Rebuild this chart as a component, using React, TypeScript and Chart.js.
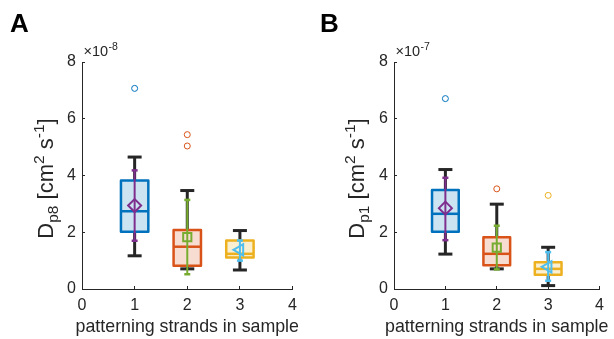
import React, { useEffect, useRef } from "react";
import { Chart, registerables } from "chart.js";

Chart.register(...registerables);

// ---- data ----
const groups = [1, 2, 3];
const xTickValues = [0, 1, 2, 3, 4];
const yTickValues = [0, 2, 4, 6, 8];

// Panel A: D_p8, units of 1e-8 cm^2 s^-1
const aQ1 = [2.02, 0.82, 1.11];
const aMedian = [2.74, 1.49, 1.24];
const aQ3 = [3.82, 2.08, 1.71];
const aWhiskerLow = [1.17, 0.71, 0.67];
const aWhiskerHigh = [4.65, 3.47, 2.06];
const aMean = [2.94, 1.83, 1.38];
const aMeanLow = [1.7, 0.52, 1.0];
const aMeanHigh = [4.18, 3.14, 1.71];
const aOutliers = [[7.07], [5.44, 5.04], []];

// Panel B: D_p1, units of 1e-7 cm^2 s^-1
const bQ1 = [2.02, 0.84, 0.5];
const bMedian = [2.65, 1.24, 0.71];
const bQ3 = [3.49, 1.82, 0.94];
const bWhiskerLow = [1.23, 0.71, 0.12];
const bWhiskerHigh = [4.21, 2.99, 1.47];
const bMean = [2.85, 1.46, 0.78];
const bMeanLow = [1.72, 0.69, 0.29];
const bMeanHigh = [3.92, 2.23, 1.3];
const bOutliers = [[6.71], [3.53], [3.3]];

// ---- styles ----
const AXIS = "#262626";
const FONT = "'Liberation Sans', Arial, Helvetica, sans-serif";
const boxColors = ["#0072BD", "#D95319", "#EDB120"];
const boxFills = ["#cce3f2", "#f7ddd1", "#fbefd2"];
const meanColors = ["#7E2F8E", "#77AC30", "#4DBEEE"];
const meanStyles = ["rectRot", "rect", "triangle"];
const meanRadius = [6.5, 5.8, 6.5];
const meanRotation = [0, 0, -90];
const BOX_HALF = 0.26;
const TICK_SIZE = 16;
const TITLE_SIZE = 17.8;
const YT_BIG = 22;
const YT_SMALL = 15.5;

type PanelData = {
  letter: string;
  exponent: string;
  sub: string;
  q1: number[];
  median: number[];
  q3: number[];
  wLo: number[];
  wHi: number[];
  mean: number[];
  mLo: number[];
  mHi: number[];
  outliers: number[][];
  left: number;
  yAxisWidth: number;
  padRight: number;
  letterX: number;
  yTitleX: number;
};

const panels: PanelData[] = [
  {
    letter: "A", exponent: "-8", sub: "p8",
    q1: aQ1, median: aMedian, q3: aQ3, wLo: aWhiskerLow, wHi: aWhiskerHigh,
    mean: aMean, mLo: aMeanLow, mHi: aMeanHigh, outliers: aOutliers,
    left: 0, yAxisWidth: 82, padRight: 12, letterX: 10, yTitleX: 53,
  },
  {
    letter: "B", exponent: "-7", sub: "p1",
    q1: bQ1, median: bMedian, q3: bQ3, wLo: bWhiskerLow, wHi: bWhiskerHigh,
    mean: bMean, mLo: bMeanLow, mHi: bMeanHigh, outliers: bOutliers,
    left: 307, yAxisWidth: 87, padRight: 6, letterX: 13, yTitleX: 57,
  },
];

const W = 307;
const H = 339;

function line(ctx: CanvasRenderingContext2D, x1: number, y1: number, x2: number, y2: number) {
  ctx.beginPath();
  ctx.moveTo(x1, y1);
  ctx.lineTo(x2, y2);
  ctx.stroke();
}

function makePlugin(p: PanelData) {
  return {
    id: "boxes" + p.letter,
    beforeDatasetsDraw(chart: any) {
      const { ctx } = chart;
      const x = chart.scales.x;
      const y = chart.scales.y;
      ctx.save();
      ctx.lineJoin = "round";
      groups.forEach((g, i) => {
        const cx = x.getPixelForValue(g);
        const l = x.getPixelForValue(g - BOX_HALF);
        const r = x.getPixelForValue(g + BOX_HALF);
        const yq1 = y.getPixelForValue(p.q1[i]);
        const yq3 = y.getPixelForValue(p.q3[i]);
        const ymed = y.getPixelForValue(p.median[i]);
        const ywl = y.getPixelForValue(p.wLo[i]);
        const ywh = y.getPixelForValue(p.wHi[i]);
        // whiskers
        ctx.strokeStyle = AXIS;
        ctx.lineWidth = 3;
        line(ctx, cx, ywh, cx, yq3);
        line(ctx, cx, yq1, cx, ywl);
        line(ctx, cx - 7, ywh, cx + 7, ywh);
        line(ctx, cx - 7, ywl, cx + 7, ywl);
        // box
        ctx.fillStyle = boxFills[i];
        ctx.fillRect(l, yq3, r - l, yq1 - yq3);
        ctx.strokeStyle = boxColors[i];
        ctx.lineWidth = 2.5;
        ctx.strokeRect(l, yq3, r - l, yq1 - yq3);
        line(ctx, l, ymed, r, ymed);
        // mean error bar
        const yml = y.getPixelForValue(p.mLo[i]);
        const ymh = y.getPixelForValue(p.mHi[i]);
        ctx.strokeStyle = meanColors[i];
        ctx.lineWidth = 2;
        line(ctx, cx, ymh, cx, yml);
        ctx.lineWidth = 2.5;
        line(ctx, cx - 3, ymh, cx + 3, ymh);
        line(ctx, cx - 3, yml, cx + 3, yml);
      });
      ctx.restore();
    },
    afterDraw(chart: any) {
      const { ctx, chartArea } = chart;
      ctx.save();
      // panel letter
      ctx.fillStyle = "#000";
      ctx.font = `bold 26px ${FONT}`;
      ctx.textAlign = "left";
      ctx.textBaseline = "alphabetic";
      ctx.fillText(p.letter, p.letterX, 32);
      // exponent
      ctx.fillStyle = AXIS;
      ctx.font = `14.5px ${FONT}`;
      const ex = chartArea.left + 1.5;
      ctx.fillText("×10", ex, 55.5);
      const w10 = ctx.measureText("×10").width;
      ctx.font = `10.5px ${FONT}`;
      ctx.fillText(p.exponent, ex + w10 + 0.5, 49.5);
      // x title
      ctx.font = `${TITLE_SIZE}px ${FONT}`;
      ctx.textAlign = "center";
      ctx.fillText("patterning strands in sample", (chartArea.left + chartArea.right) / 2, 331.5);
      // y title
      const segs = [
        { t: "D", s: YT_BIG, dy: 0 },
        { t: p.sub, s: YT_SMALL, dy: 5 },
        { t: " [cm", s: YT_BIG, dy: 0 },
        { t: "2", s: YT_SMALL, dy: -9 },
        { t: " s", s: YT_BIG, dy: 0 },
        { t: "-1", s: YT_SMALL, dy: -9 },
        { t: "]", s: YT_BIG, dy: 0 },
      ];
      ctx.textAlign = "left";
      let total = 0;
      const widths = segs.map((sg) => {
        ctx.font = `${sg.s}px ${FONT}`;
        const w = ctx.measureText(sg.t).width;
        total += w;
        return w;
      });
      ctx.translate(p.yTitleX, (chartArea.top + chartArea.bottom) / 2 + 3);
      ctx.rotate(-Math.PI / 2);
      let cur = -total / 2;
      segs.forEach((sg, k) => {
        ctx.font = `${sg.s}px ${FONT}`;
        ctx.fillText(sg.t, cur, sg.dy);
        cur += widths[k];
      });
      ctx.restore();
    },
  };
}

function Panel({ p }: { p: PanelData }) {
  const ref = useRef<HTMLCanvasElement>(null);
  useEffect(() => {
    const canvas = ref.current;
    if (!canvas) return;
    const datasets: any[] = [];
    groups.forEach((g, i) => {
      datasets.push({
        data: p.outliers[i].map((v) => ({ x: g, y: v })),
        pointStyle: "circle",
        radius: 3,
        borderWidth: 1,
        borderColor: boxColors[i],
        backgroundColor: "rgba(0,0,0,0)",
      });
    });
    groups.forEach((g, i) => {
      datasets.push({
        data: [{ x: g, y: p.mean[i] }],
        pointStyle: meanStyles[i],
        radius: meanRadius[i],
        rotation: meanRotation[i],
        borderWidth: 2,
        borderColor: meanColors[i],
        backgroundColor: "rgba(0,0,0,0)",
      });
    });
    const chart = new Chart(canvas, {
      type: "scatter",
      data: { datasets },
      options: {
        animation: false,
        responsive: false,
        devicePixelRatio: 1,
        events: [],
        layout: { padding: { left: 0, right: p.padRight, top: 62, bottom: 0 } },
        plugins: { legend: { display: false }, tooltip: { enabled: false } },
        scales: {
          x: {
            type: "linear",
            min: 0,
            max: 4,
            afterFit: (s: any) => { s.height = 50; },
            afterBuildTicks: (s: any) => { s.ticks = xTickValues.map((v) => ({ value: v })); },
            grid: { display: true, drawOnChartArea: false, drawTicks: true, tickLength: -3, color: AXIS, lineWidth: 1 },
            border: { display: true, color: AXIS, width: 1 },
            ticks: { color: AXIS, font: { family: FONT, size: TICK_SIZE }, padding: 10, maxRotation: 0 },
          },
          y: {
            type: "linear",
            min: 0,
            max: 8,
            afterFit: (s: any) => { s.width = p.yAxisWidth; },
            afterBuildTicks: (s: any) => { s.ticks = yTickValues.map((v) => ({ value: v })); },
            grid: { display: true, drawOnChartArea: false, drawTicks: true, tickLength: -3, color: AXIS, lineWidth: 1 },
            border: { display: true, color: AXIS, width: 1 },
            ticks: { color: AXIS, font: { family: FONT, size: TICK_SIZE }, padding: 9 },
          },
        },
      },
      plugins: [makePlugin(p)],
    } as any);
    return () => chart.destroy();
  }, [p]);
  return (
    <canvas
      ref={ref}
      width={W}
      height={H}
      style={{ position: "absolute", left: p.left, top: 0, width: W, height: H }}
    />
  );
}

export default function App() {
  return (
    <div style={{ position: "absolute", left: 0, top: 0, width: 614, height: 339, background: "#fff" }}>
      {panels.map((p) => (
        <Panel key={p.letter} p={p} />
      ))}
    </div>
  );
}
